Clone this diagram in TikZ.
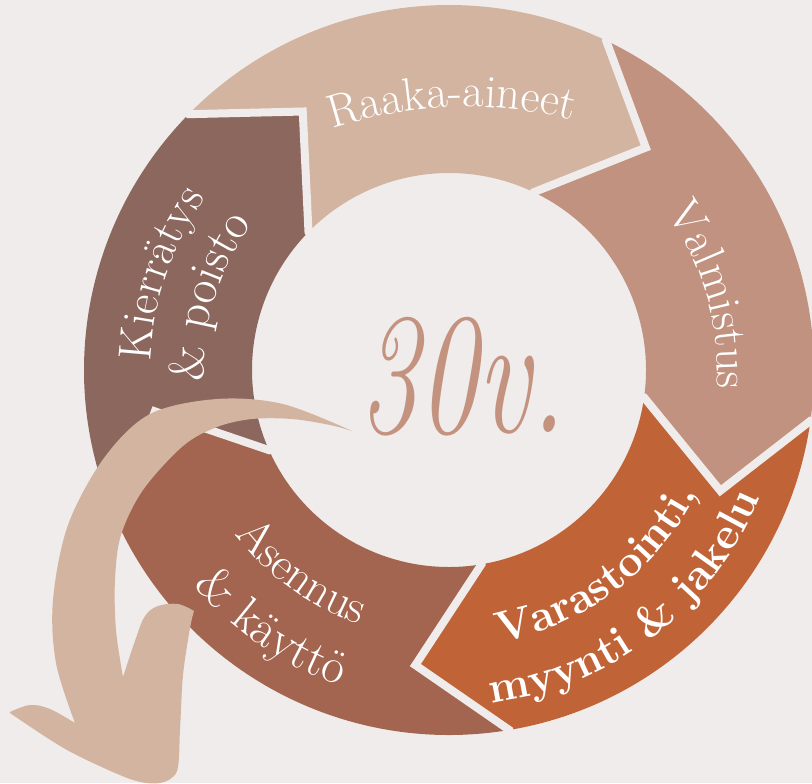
\documentclass[tikz,border=0pt]{standalone}
\usepackage{fontspec}
\usepackage{graphicx}
\definecolor{bg}{HTML}{F0ECEB}
\definecolor{craw}{HTML}{D2B4A0}
\definecolor{cval}{HTML}{C29280}
\definecolor{cvar}{HTML}{C06438}
\definecolor{cuse}{HTML}{A36550}
\definecolor{crec}{HTML}{8C675E}
\definecolor{cnum}{HTML}{C4937F}
\newcommand\lblf{\fontsize{35}{35}\selectfont}
\newcommand\lblg{\fontsize{37}{37}\selectfont}
\newcommand\lblb{\fontsize{33}{33}\selectfont\bfseries}
\newdimen\attot \newdimen\atcum \newdimen\atch \newbox\atbox
\newcommand\atmeasure[2]{\pgfinterruptpicture\global\setbox\atbox=\hbox{#1#2}\endpgfinterruptpicture}
% #1 centre, #2 radius, #3 middle angle, #4 direction (1 ccw / -1 cw), #5 font, #6 characters
\newcommand\arctext[6]{%
  \global\attot=0pt\relax
  \foreach \ch in {#6}{\atmeasure{#5}{\ch}\global\advance\attot by \wd\atbox\relax}%
  \global\atcum=0pt\relax
  \foreach \ch in {#6}{%
    \atmeasure{#5}{\ch}%
    \atch=\wd\atbox\relax
    \pgfmathsetmacro\atang{#3+(#4)*((\the\atcum)+0.5*(\the\atch)-0.5*(\the\attot))/(#2*0.75)*180/pi}%
    \pgfmathsetmacro\atrot{\atang+(#4)*90}%
    \node[rotate=\atrot, anchor=base, inner sep=0pt, text=white, font=#5] at ([shift={(#1)}]\atang:#2) {\ch};
    \global\advance\atcum by \atch\relax
  }%
}
\begin{document}
\begin{tikzpicture}[x=0.75pt,y=0.75pt,
  gapline/.style={draw=bg, line width=6pt, line join=miter, miter limit=10},
  arrowfill/.style={fill=craw}]
\useasboundingbox (-449,-413) rectangle (363,370);
\fill[bg] (-449,-413) rectangle (363,370);
% ring segments
\foreach \s/\e/\cc in {204/135.5/crec, 135.5/64.5/craw, 64.5/-8/cval, -8/-80.5/cvar, -80.5/-156/cuse}{
  \fill[\cc] (\s:365) arc[start angle=\s, end angle=\e, radius=365] -- (\e-16:297) -- (\e:197)
     arc[start angle=\e, end angle=\s, radius=197] -- (\s-16:297) -- cycle;
}
% gaps
\foreach \b in {135.5,64.5,-8,-80.5,204}{
  \draw[gapline] (\b:378) -- (\b:365) -- (\b-16:297) -- (\b:197) -- (\b:184);
}
% labels
\arctext{18,-167}{430}{92}{-1}{\lblf}{R,a,a,k,a,-,a,i,n,e,e,t}
\arctext{0,0}{268}{16}{-1}{\lblf}{V,a,l,m,i,s,t,u,s}
\arctext{0,0}{277}{-53}{1}{\lblb}{V,a,r,a,s,t,o,i,n,t,i,{,}}
\arctext{0,0}{336}{-52.5}{1}{\lblb}{m,y,y,n,t,i,~,\&,~,j,a,k,e,l,u}
\arctext{0,0}{270}{234}{1}{\lblf}{A,s,e,n,n,u,s}
\arctext{0,0}{334}{235.5}{1}{\lblg}{\&,~,k,ä,y,t,t,ö}
\arctext{0,0}{298}{161.5}{-1}{\lblf}{K,i,e,r,r,ä,t,y,s}
\arctext{0,0}{245}{163}{-1}{\lblg}{\&,~,p,o,i,s,t,o}
% centre text
\node[text=cnum, anchor=base, inner sep=0pt] (years) at (14,-62)
  {\scalebox{0.68}[1]{\fontsize{130}{130}\selectfont\itshape 30v.}};
% big arrow
\begin{scope}[shift={(-449,370)}, yscale=-1]
\fill[arrowfill] plot[smooth, tension=0.55] coordinates {(352,431) (283,404) (217,399) (150,414) (104,458) (68,525) (53,600) (56,663) (75,723)}
 -- plot[smooth, tension=0.6] coordinates {(75,723) (50,709) (30,705) (10,712)}
 -- plot[smooth, tension=0.5] coordinates {(10,713) (67,750) (130,779) (160,783) (177,771) (180,730) (183,675) (190,628) (194,611)}
 -- plot[smooth, tension=0.6] coordinates {(194,611) (178,604) (158,606) (145,616) (136,638) (123,677)}
 -- plot[smooth, tension=0.55] coordinates {(123,677) (116,630) (115,580) (121,535) (143,490) (183,446) (217,427) (252,419) (292,419) (330,425) (352,431)}
 -- cycle;
\end{scope}
\end{tikzpicture}
\end{document}
